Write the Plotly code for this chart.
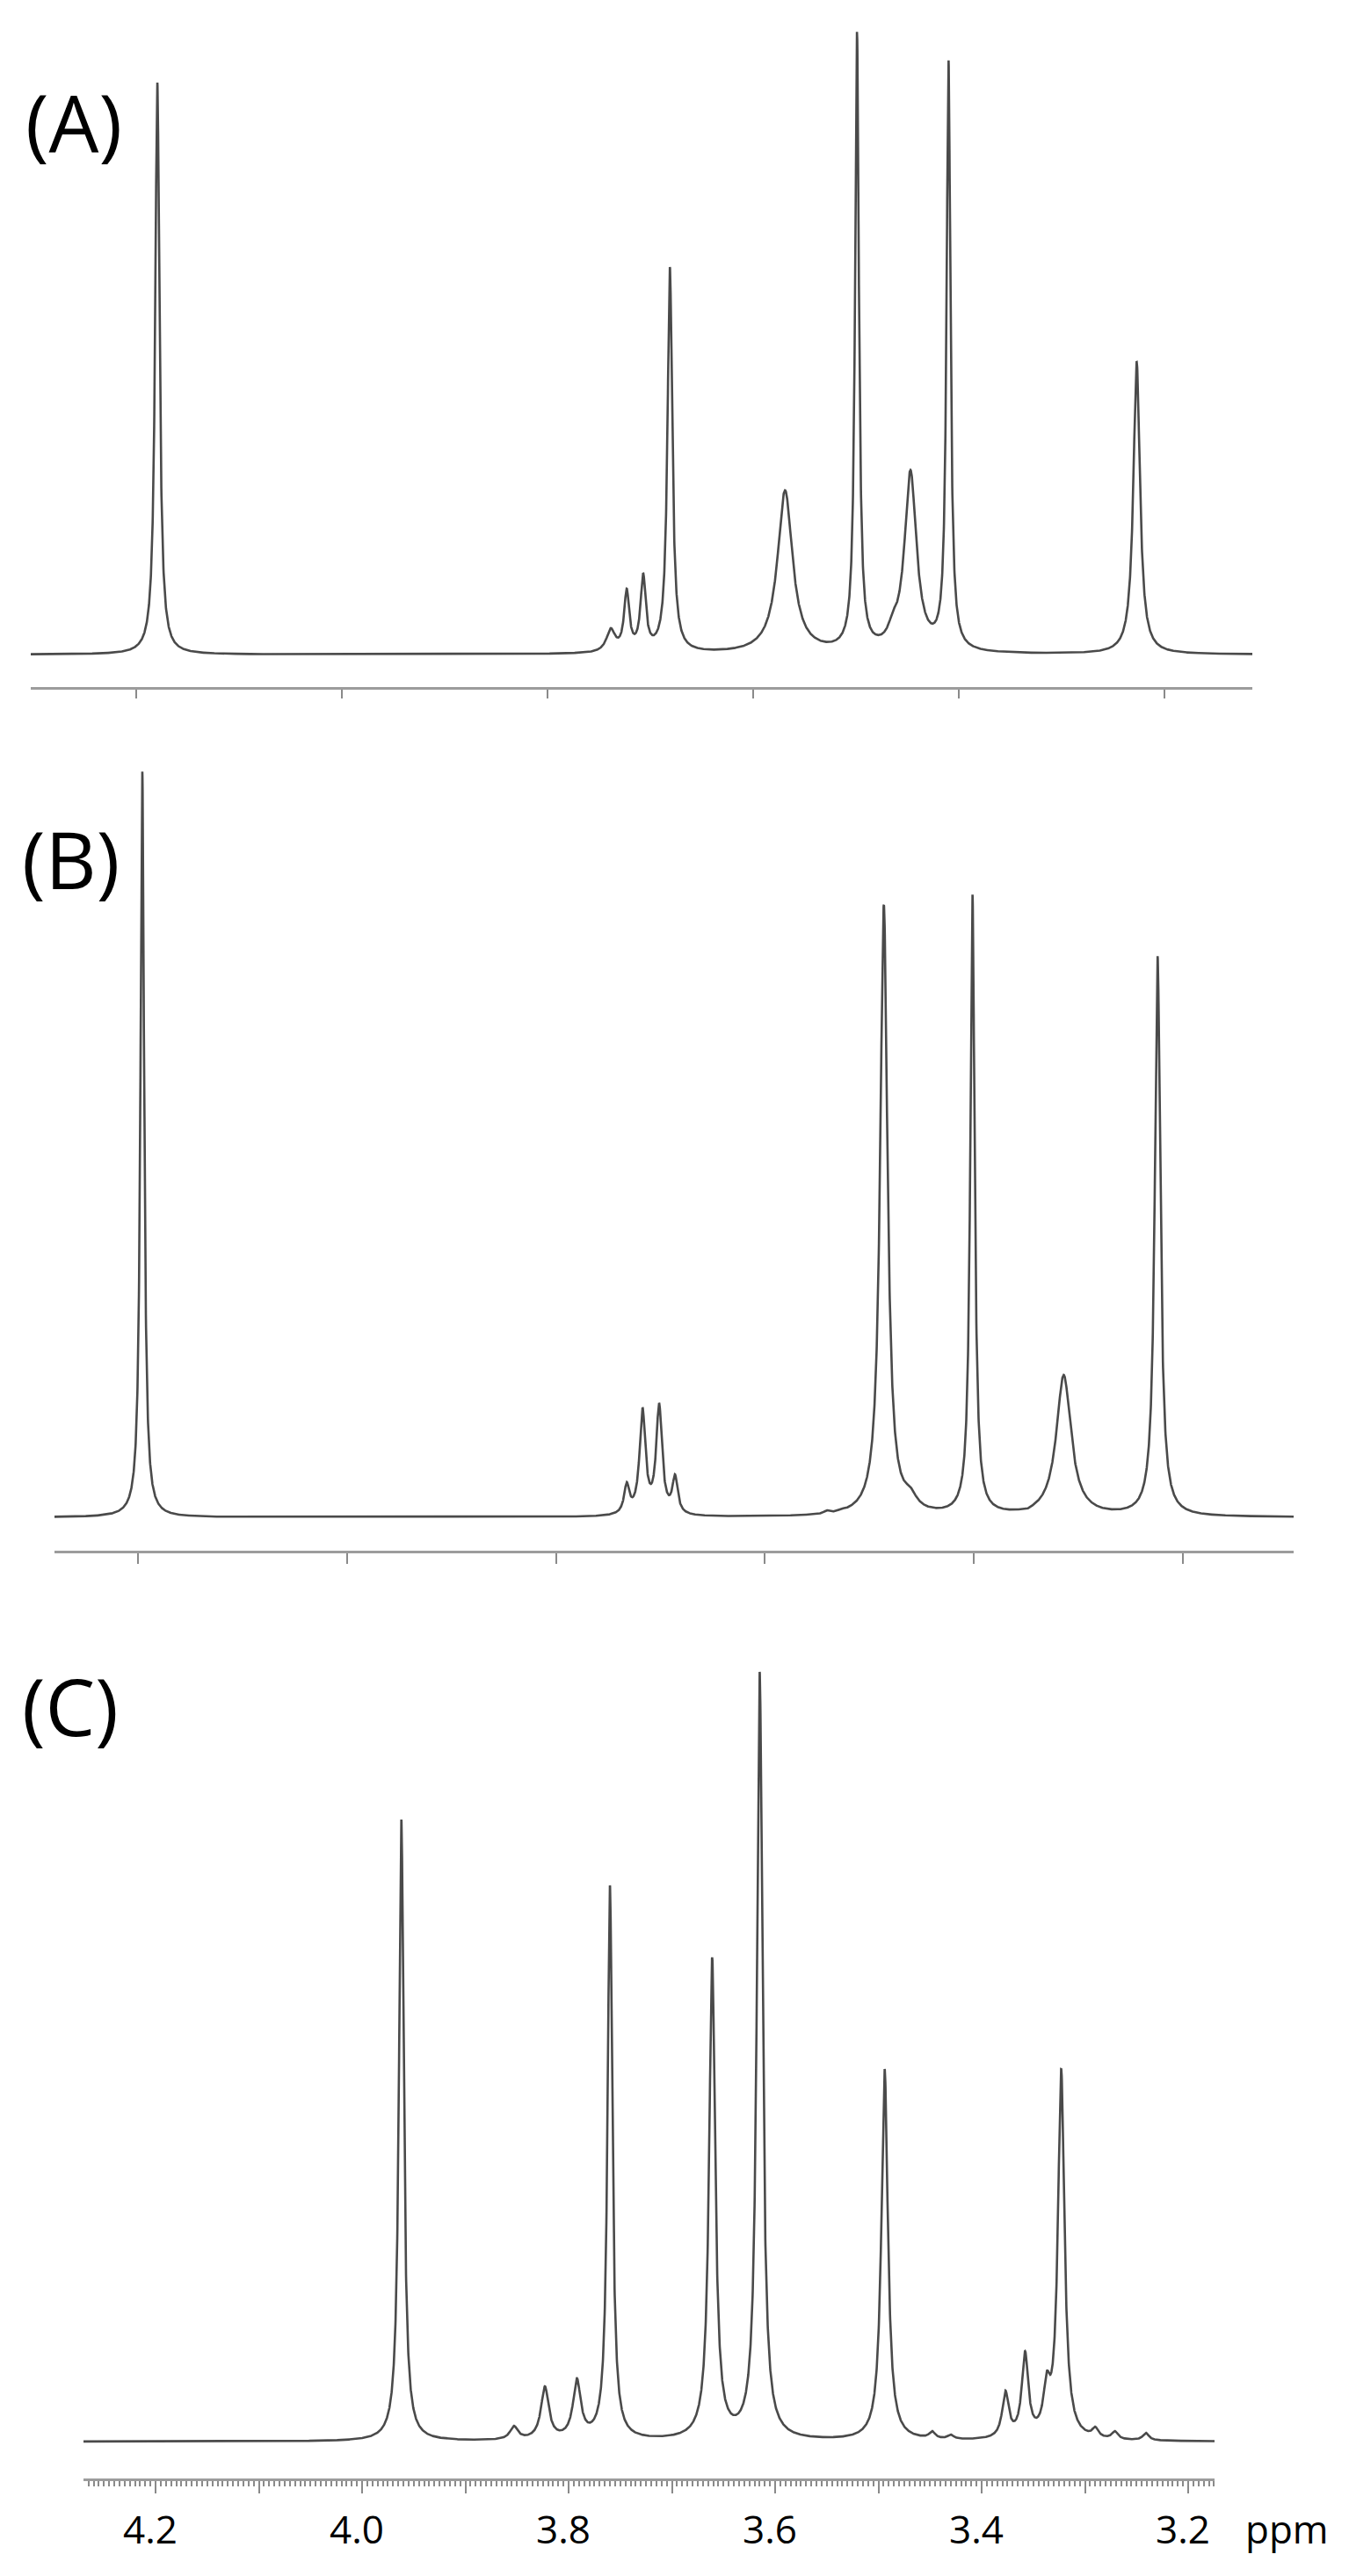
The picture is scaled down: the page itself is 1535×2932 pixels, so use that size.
import numpy as np
import plotly.graph_objects as go

# ---------------- data ----------------
# Panel A peak table: chemical shift (ppm), observed height above baseline, line width (FWHM, ppm)
A_PPM    = [4.1795, 3.7385, 3.7230, 3.7070, 3.6810, 3.5690, 3.5530, 3.4990, 3.4640, 3.4470, 3.4100, 3.2270]
A_HEIGHT = [651,    30,     75,     93,     441,    187,    45,     709,    50,     210,    677,    333]
A_FWHM   = [0.0050, 0.0100, 0.0060, 0.0060, 0.0055, 0.0175, 0.0120, 0.0045, 0.0100, 0.0140, 0.0045, 0.0077]

# Panel B peak table
B_PPM    = [4.1958, 3.7323, 3.7172, 3.7013, 3.6861, 3.5410, 3.5270, 3.4863, 3.4611, 3.4015, 3.3490, 3.3142, 3.2244]
B_HEIGHT = [849,    40,     125,    130,    49,     8,      10,     697,    35,     709,    10,     162,    639]
B_FWHM   = [0.0042, 0.0060, 0.0067, 0.0067, 0.0060, 0.0060, 0.0060, 0.0084, 0.0150, 0.0050, 0.0100, 0.0170, 0.0063]

# Panel C peak table
C_PPM    = [3.9620, 3.8530, 3.8230, 3.7920, 3.7600, 3.6610, 3.6150, 3.4940, 3.4480, 3.4300, 3.3770, 3.3580, 3.3370, 3.3230, 3.2900, 3.2710, 3.2410]
C_HEIGHT = [708,    18,     63,     72,     633,    551,    876,    424,    12,     8,      58,     103,    80,     424,    17,     12,     10]
C_FWHM   = [0.0055, 0.0090, 0.0090, 0.0090, 0.0055, 0.0070, 0.0065, 0.0075, 0.0070, 0.0070, 0.0075, 0.0075, 0.0075, 0.0075, 0.0070, 0.0070, 0.0070]

# Axis tick values (ppm)
A_TICKS = [4.2, 4.0, 3.8, 3.6, 3.4, 3.2]
B_TICKS = [4.2, 4.0, 3.8, 3.6, 3.4, 3.2]
C_TICKS = [4.2, 4.1, 4.0, 3.9, 3.8, 3.7, 3.6, 3.5, 3.4, 3.3, 3.2]
C_TICKTEXT = ["4.2", "", "4.0", "", "3.8", "", "3.6", "", "3.4", "", "3.2"]
PANEL_LABELS = ["(A)", "(B)", "(C)"]
UNIT_LABEL = "ppm"

# ---------------- helpers ----------------
def spectrum(centers, heights, fwhm, x):
    c = np.asarray(centers, float)
    h = np.asarray(heights, float)
    hw = np.asarray(fwhm, float) / 2.0
    M = 1.0 / (1.0 + ((c[:, None] - c[None, :]) / hw[None, :]) ** 2)
    amp = np.linalg.solve(M, h)
    return (amp[None, :] / (1.0 + ((x[:, None] - c[None, :]) / hw[None, :]) ** 2)).sum(axis=1)

PAGE_W, PAGE_H = 1535, 2932
BODY = 8                      # default body margin of the html page
W, H = PAGE_W - 2 * BODY, PAGE_H - 2 * BODY

def fx(px):   # page pixel -> paper x fraction
    return (px - BODY) / W

def fy(py):   # page pixel -> paper y fraction
    return 1 - (py - BODY) / H

LINE_COLOR = "#4a4a4a"
AXIS_COLOR = "#9c9c9c"
FONT = "Open Sans"

# panel geometry (pixels in the page)
panels = [
    dict(ppm=A_PPM, h=A_HEIGHT, w=A_FWHM, xr=(4.3026, 3.1145), xpx=(35, 1425),
         axis=782, base=745, top=12, ticks=A_TICKS, text=None, ticklen=10),
    dict(ppm=B_PPM, h=B_HEIGHT, w=B_FWHM, xr=(4.2798, 3.0942), xpx=(62, 1472),
         axis=1765, base=1727, top=850, ticks=B_TICKS, text=None, ticklen=12),
    dict(ppm=C_PPM, h=C_HEIGHT, w=C_FWHM, xr=(4.2698, 3.1745), xpx=(95, 1382),
         axis=2821, base=2779, top=1880, ticks=C_TICKS, text=C_TICKTEXT, ticklen=14),
]

fig = go.Figure()
layout = dict(
    width=W, height=H,
    margin=dict(l=0, r=0, t=0, b=0),
    paper_bgcolor="white", plot_bgcolor="white",
    showlegend=False,
)

for i, p in enumerate(panels):
    k = "" if i == 0 else str(i + 1)
    x = np.linspace(p["xr"][0], p["xr"][1], 8000)
    y = spectrum(p["ppm"], p["h"], p["w"], x)
    fig.add_trace(go.Scatter(x=x, y=y, mode="lines",
                             line=dict(color=LINE_COLOR, width=2.6),
                             xaxis="x" + k, yaxis="y" + k, hoverinfo="skip"))
    off = p["axis"] - p["base"]
    span = p["axis"] - p["top"]
    xa = dict(
        domain=[fx(p["xpx"][0]), fx(p["xpx"][1])],
        range=list(p["xr"]),
        anchor="y" + k,
        showgrid=False, zeroline=False,
        showline=True, linecolor=AXIS_COLOR, linewidth=3,
        tickmode="array", tickvals=p["ticks"],
        ticks="outside", ticklen=p["ticklen"], tickwidth=2, tickcolor="#8a8a8a",
        automargin=False,
    )
    if p["text"] is None:
        xa["showticklabels"] = False
    else:
        xa["ticktext"] = p["text"]
        xa["showticklabels"] = True
        xa["tickfont"] = dict(family=FONT, size=44, color="black")
        xa["ticklabelstandoff"] = 4
        xa["ticklabelshift"] = 6
        xa["minor"] = dict(tickmode="linear", tick0=3.2, dtick=0.005, ticks="outside",
                           ticklen=6, tickwidth=1.5, tickcolor="#8a8a8a", showgrid=False)
    ya = dict(
        domain=[fy(p["axis"]), fy(p["top"])],
        range=[-off, span - off],
        visible=False, showgrid=False, zeroline=False,
        anchor="x" + k, automargin=False,
    )
    layout["xaxis" + k] = xa
    layout["yaxis" + k] = ya

annotations = []
label_pos = [(84, 138), (80, 977), (80, 1941)]
for lab, (lx, ly) in zip(PANEL_LABELS, label_pos):
    annotations.append(dict(text=lab, xref="paper", yref="paper",
                            x=fx(lx), y=fy(ly), xanchor="center", yanchor="middle",
                            showarrow=False, font=dict(family=FONT, size=90, color="black")))
annotations.append(dict(text=UNIT_LABEL, xref="paper", yref="paper",
                        x=fx(1464), y=fy(2878), xanchor="center", yanchor="middle",
                        showarrow=False, font=dict(family=FONT, size=44, color="black")))
layout["annotations"] = annotations

fig.update_layout(**layout)
fig.write_html("out.html")
